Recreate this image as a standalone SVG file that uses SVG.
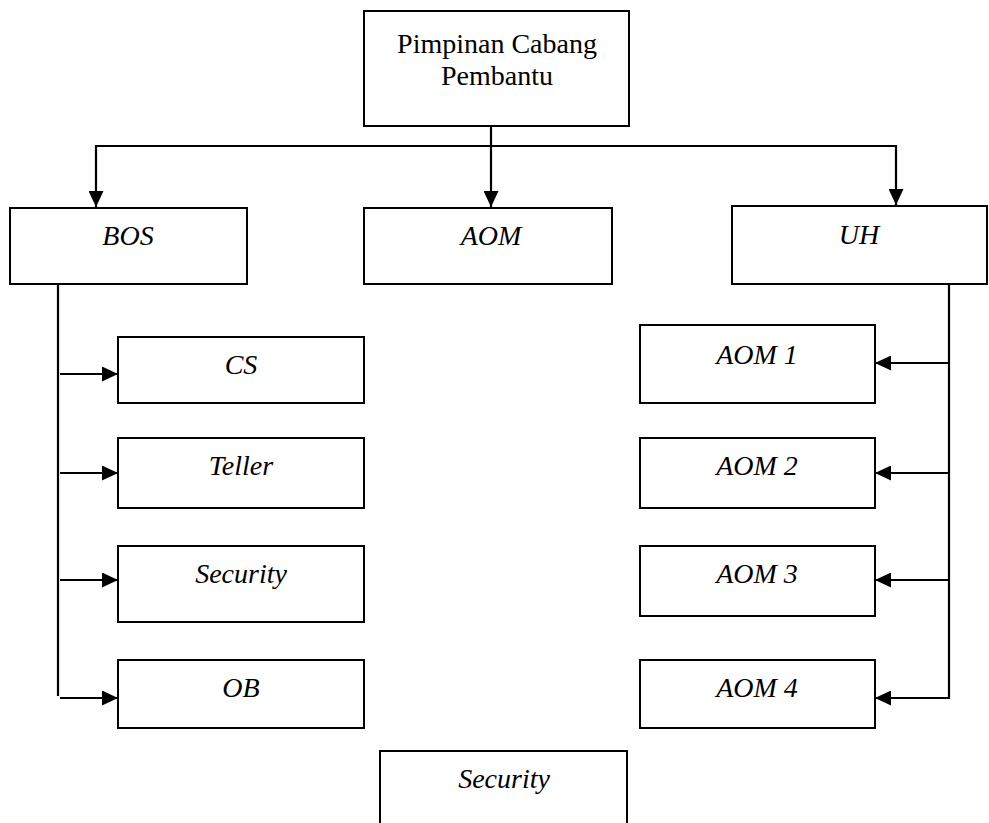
<svg xmlns="http://www.w3.org/2000/svg" width="989" height="823" viewBox="0 0 989 823">
<style>
.box{fill:#fff;stroke:#000;stroke-width:2}
.t{font-family:"Liberation Serif","Times New Roman",serif;font-size:28px;fill:#000;text-anchor:middle}
.i{font-style:italic}
.c{fill:none;stroke:#000;stroke-width:2.2}
</style>
<defs>
<marker id="ah" viewBox="0 0 10 10" refX="10" refY="5" markerWidth="16" markerHeight="15" markerUnits="userSpaceOnUse" orient="auto" preserveAspectRatio="none">
<path d="M0,0 L10,5 L0,10 Z" fill="#000"/>
</marker>
</defs>
<g id="connectors">
<line class="c" x1="491" y1="126" x2="491" y2="146"/>
<polyline class="c" points="96,146 896,146"/>
<line class="c" x1="96" y1="145" x2="96" y2="207" marker-end="url(#ah)"/>
<line class="c" x1="491" y1="145" x2="491" y2="207" marker-end="url(#ah)"/>
<line class="c" x1="896" y1="145" x2="896" y2="205" marker-end="url(#ah)"/>
<line class="c" x1="58" y1="284" x2="58" y2="696"/>
<line class="c" x1="60" y1="374" x2="118" y2="374" marker-end="url(#ah)"/>
<line class="c" x1="60" y1="473" x2="118" y2="473" marker-end="url(#ah)"/>
<line class="c" x1="60" y1="580" x2="118" y2="580" marker-end="url(#ah)"/>
<line class="c" x1="60" y1="698" x2="118" y2="698" marker-end="url(#ah)"/>
<line class="c" x1="949" y1="284" x2="949" y2="699"/>
<line class="c" x1="949" y1="363" x2="875" y2="363" marker-end="url(#ah)"/>
<line class="c" x1="949" y1="473" x2="875" y2="473" marker-end="url(#ah)"/>
<line class="c" x1="949" y1="580" x2="875" y2="580" marker-end="url(#ah)"/>
<line class="c" x1="949" y1="698" x2="875" y2="698" marker-end="url(#ah)"/>
</g>
<g id="pimpinan"><rect class="box" x="364" y="11" width="265" height="115"/>
<text class="t" x="497" y="53">Pimpinan Cabang</text><text class="t" x="497" y="85">Pembantu</text></g>
<g id="bos"><rect class="box" x="10" y="208" width="237" height="76"/><text class="t i" x="128" y="245">BOS</text></g>
<g id="aom"><rect class="box" x="364" y="208" width="248" height="76"/><text class="t i" x="491" y="245">AOM</text></g>
<g id="uh"><rect class="box" x="732" y="206" width="255" height="78"/><text class="t i" x="859" y="244">UH</text></g>
<g id="cs"><rect class="box" x="118" y="337" width="246" height="66"/><text class="t i" x="241" y="374">CS</text></g>
<g id="teller"><rect class="box" x="118" y="438" width="246" height="70"/><text class="t i" x="241" y="475">Teller</text></g>
<g id="security1"><rect class="box" x="118" y="546" width="246" height="76"/><text class="t i" x="241" y="583">Security</text></g>
<g id="ob"><rect class="box" x="118" y="660" width="246" height="68"/><text class="t i" x="241" y="697">OB</text></g>
<g id="aom1"><rect class="box" x="640" y="325" width="235" height="78"/><text class="t i" x="757" y="364">AOM 1</text></g>
<g id="aom2"><rect class="box" x="640" y="438" width="235" height="70"/><text class="t i" x="757" y="475">AOM 2</text></g>
<g id="aom3"><rect class="box" x="640" y="546" width="235" height="70"/><text class="t i" x="757" y="583">AOM 3</text></g>
<g id="aom4"><rect class="box" x="640" y="660" width="235" height="68"/><text class="t i" x="757" y="697">AOM 4</text></g>
<g id="security2"><rect class="box" x="380" y="751" width="247" height="80"/><text class="t i" x="504" y="788">Security</text></g>
</svg>
